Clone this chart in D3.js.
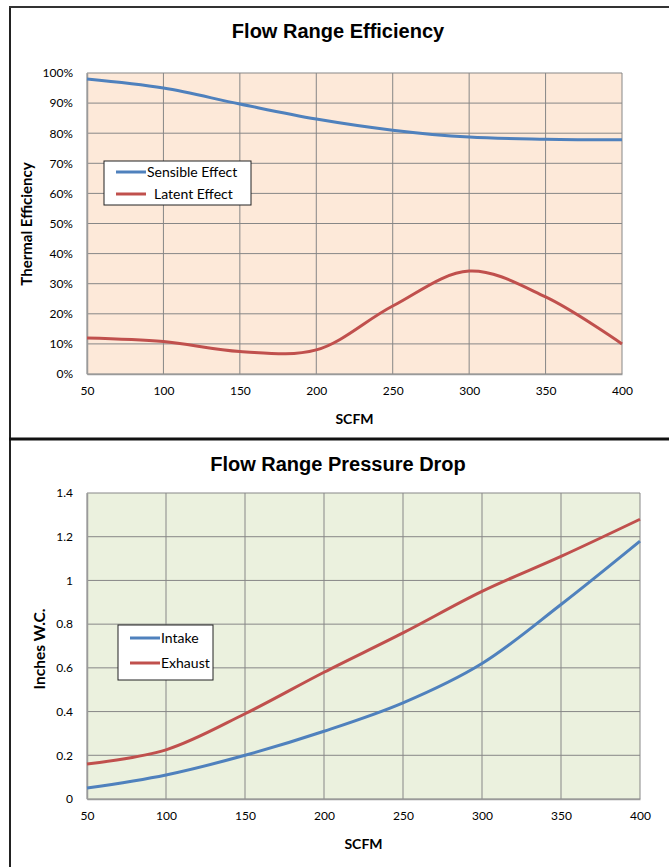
<!DOCTYPE html>
<html>
<head>
<meta charset="utf-8">
<script src="https://cdn.jsdelivr.net/npm/d3@7"></script>
<style>
  body { margin: 0; background: #fff; }
  svg { display: block; }
  .tick text { font-family: Lato, "Open Sans", sans-serif; font-size: 12px; fill: #000; }
</style>
</head>
<body>
<svg id="chart" width="669" height="867"></svg>
<script>
// SCFM steps shared by both charts
const scfm = [50, 100, 150, 200, 250, 300, 350, 400];

// top chart: thermal efficiency (%)
const sensible = [98, 95, 89.7, 84.7, 81, 78.7, 78, 77.8];
const latent = [12, 10.8, 7.5, 8, 22.6, 34.2, 25.6, 10];
const effTicks = [0, 10, 20, 30, 40, 50, 60, 70, 80, 90, 100];

// bottom chart: pressure drop (inches W.C.)
const intake = [0.05, 0.11, 0.2, 0.31, 0.44, 0.62, 0.89, 1.18];
const exhaust = [0.16, 0.225, 0.39, 0.58, 0.76, 0.95, 1.11, 1.28];
const pdTicks = [0, 0.2, 0.4, 0.6, 0.8, 1, 1.2, 1.4];

const blue = "#4f81bd";
const red = "#c0504d";

const svg = d3.select("#chart");

// frame lines
svg.append("line").attr("x1", 10).attr("x2", 10).attr("y1", 6).attr("y2", 867)
  .attr("stroke", "#222").attr("stroke-width", 2);
svg.append("line").attr("x1", 9).attr("x2", 669).attr("y1", 7).attr("y2", 7)
  .attr("stroke", "#333").attr("stroke-width", 2);
svg.append("line").attr("x1", 9).attr("x2", 669).attr("y1", 439).attr("y2", 439)
  .attr("stroke", "#111").attr("stroke-width", 3);

const drawChart = (opt) => {
  const g = svg.append("g");
  const x = d3.scaleLinear().domain([50, 400]).range([opt.left, opt.right]);
  const y = d3.scaleLinear().domain(opt.yDomain).range([opt.bottom, opt.top]);

  //background
  g.append("rect")
    .attr("x", opt.left).attr("y", opt.top)
    .attr("width", opt.right - opt.left).attr("height", opt.bottom - opt.top)
    .attr("fill", opt.bg);

  //grid
  g.append("g").selectAll("line").data(opt.yTicks).join("line")
    .attr("x1", opt.left).attr("x2", opt.right)
    .attr("y1", (d) => y(d)).attr("y2", (d) => y(d))
    .attr("stroke", "#878787").attr("stroke-width", 1);
  g.append("g").selectAll("line").data(scfm).join("line")
    .attr("x1", (d) => x(d)).attr("x2", (d) => x(d))
    .attr("y1", opt.top).attr("y2", opt.bottom)
    .attr("stroke", "#878787").attr("stroke-width", 1);

  //axes
  const xAxis = g.append("g")
    .attr("transform", `translate(0,${opt.bottom})`)
    .call(d3.axisBottom(x).tickValues(scfm).tickSize(0).tickPadding(12));
  xAxis.select(".domain").attr("stroke", "#9a9a9a").attr("stroke-width", 1.5);

  const yAxis = g.append("g")
    .attr("transform", `translate(${opt.left},0)`)
    .call(d3.axisLeft(y).tickValues(opt.yTicks).tickSize(0).tickPadding(14).tickFormat(opt.fmt));
  yAxis.select(".domain").attr("stroke", "#9a9a9a").attr("stroke-width", 1.5);

  //lines
  const line = d3.line()
    .x((d) => x(d[0]))
    .y((d) => y(d[1]))
    .curve(d3.curveCatmullRom.alpha(0.5));

  opt.series.forEach((s) => {
    g.append("path")
      .datum(scfm.map((v, i) => [v, s.values[i]]))
      .attr("fill", "none")
      .attr("stroke", s.color)
      .attr("stroke-width", 3)
      .attr("d", line);
  });

  //title
  g.append("text")
    .attr("x", 338).attr("y", opt.titleY)
    .attr("text-anchor", "middle")
    .attr("font-family", "'Liberation Sans', Arial, sans-serif")
    .attr("font-weight", "bold").attr("font-size", "20px")
    .text(opt.title);

  //x label
  g.append("text")
    .attr("x", (opt.left + opt.right) / 2).attr("y", opt.bottom + 50)
    .attr("text-anchor", "middle")
    .attr("font-family", "Lato, sans-serif")
    .attr("font-weight", "bold").attr("font-size", "14px")
    .text("SCFM");

  //y label
  g.append("text")
    .attr("transform", `translate(${opt.yLabelX},${opt.yLabelY}) rotate(-90)`)
    .attr("text-anchor", "middle")
    .attr("font-family", "Lato, sans-serif")
    .attr("font-weight", "bold").attr("font-size", opt.yLabelSize)
    .text(opt.yLabel);

  //legend
  const lg = opt.legend;
  g.append("rect")
    .attr("x", lg.x).attr("y", lg.y).attr("width", lg.w).attr("height", lg.h)
    .attr("fill", "#fff").attr("stroke", "#222").attr("stroke-width", 1);
  opt.series.forEach((s, i) => {
    const cy = lg.y + lg.first + i * lg.step;
    g.append("line")
      .attr("x1", lg.x + 12).attr("x2", lg.x + 42)
      .attr("y1", cy).attr("y2", cy)
      .attr("stroke", s.color).attr("stroke-width", 3);
    g.append("text")
      .attr("x", lg.x + 43 + (s.pad || 0)).attr("y", cy + 5)
      .attr("font-family", "Lato, sans-serif").attr("font-size", lg.size)
      .text(s.name);
  });
};

drawChart({
  left: 87, right: 622, top: 73, bottom: 374,
  yDomain: [0, 100], yTicks: effTicks, fmt: (d) => d + "%",
  bg: "#fde9d9",
  title: "Flow Range Efficiency", titleY: 38,
  yLabel: "Thermal Efficiency", yLabelX: 32, yLabelY: 224, yLabelSize: "15px",
  legend: { x: 104, y: 161, w: 147, h: 44, first: 11, step: 22, size: "14px" },
  series: [
    { name: "Sensible Effect", values: sensible, color: blue },
    { name: "Latent Effect", values: latent, color: red, pad: 7 },
  ],
});

drawChart({
  left: 87, right: 640, top: 493, bottom: 799,
  yDomain: [0, 1.4], yTicks: pdTicks, fmt: (d) => String(d),
  bg: "#ebf1de",
  title: "Flow Range Pressure Drop", titleY: 471,
  yLabel: "Inches W.C.", yLabelX: 45, yLabelY: 649, yLabelSize: "15.5px",
  legend: { x: 118, y: 625, w: 95, h: 55, first: 13, step: 25, size: "14px" },
  series: [
    { name: "Intake", values: intake, color: blue },
    { name: "Exhaust", values: exhaust, color: red },
  ],
});
</script>
</body>
</html>
